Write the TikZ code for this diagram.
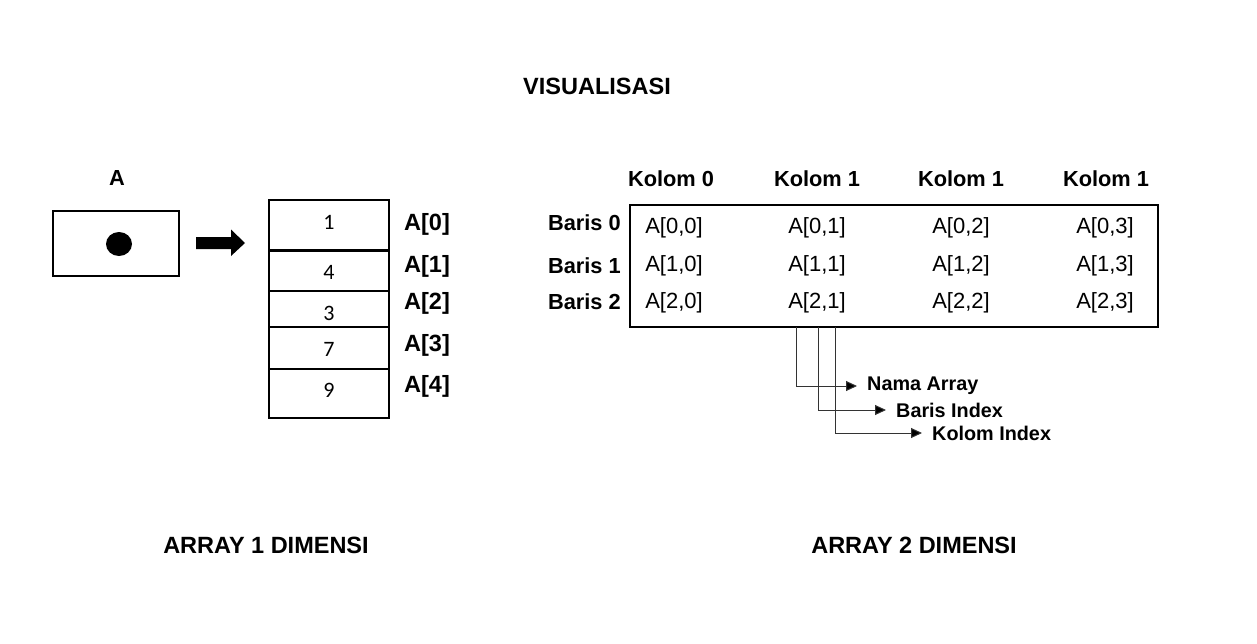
\documentclass[tikz,border=0pt]{standalone}
\usepackage{fontspec}
\setmainfont{Liberation Sans}
\newfontfamily\numfont[Numbers=Lining]{Carlito}
\usetikzlibrary{arrows.meta}
\begin{document}
\begin{tikzpicture}[x=1pt,y=-1pt,
  box/.style={draw=black,line width=2pt},
  bigbold/.style={font=\fontsize{23.5}{27}\selectfont\bfseries,inner sep=0pt},
  hdr/.style={font=\fontsize{21.8}{25}\selectfont\bfseries,inner sep=0pt},
  cell/.style={font=\fontsize{22}{26}\selectfont,inner sep=0pt},
  num/.style={font=\numfont\fontsize{22}{26}\selectfont,inner sep=0pt},
  idx/.style={font=\fontsize{23.5}{27}\selectfont\bfseries,inner sep=0pt},
  lbl/.style={font=\fontsize{19.8}{23}\selectfont\bfseries,inner sep=0pt,anchor=west},
  conn/.style={draw=black!80,line width=1pt,-{Triangle[length=11pt,width=10pt,fill=black]}}]
\useasboundingbox (0,0) rectangle (1257,643);
\fill[white] (0,0) rectangle (1257,643);

% titles
\node[bigbold] (title) at (597,86) {VISUALISASI};
\node[bigbold] (t1) at (266,545) {ARRAY 1 DIMENSI};
\node[bigbold] (t2) at (914,545) {ARRAY 2 DIMENSI};

% left: pointer A
\node[hdr] (alabel) at (117,178) {A};
\node[box,minimum width=126pt,minimum height=65pt,inner sep=0pt] (pbox) at (116,243.5) {};
\fill[black] (119,244) ellipse (13pt and 12pt);
\fill[black] (196,237) -- (231,237) -- (231,229.5) -- (245,243) -- (231,256) -- (231,249) -- (196,249) -- cycle;

% array 1D cells
\draw[box] (269,200) rectangle (389,418);
\draw[line width=3pt] (269,250.5) -- (389,250.5);
\draw[line width=2pt] (269,291) -- (389,291);
\draw[line width=2pt] (269,327) -- (389,327);
\draw[line width=2pt] (269,368.5) -- (389,368.5);
\node[num] (n0) at (329,222) {1};
\node[num] (n1) at (329,272) {4};
\node[num] (n2) at (329,313) {3};
\node[num] (n3) at (329,349) {7};
\node[num] (n4) at (329,390) {9};
\node[idx] (i0) at (427,224) {A[0]};
\node[idx] (i1) at (427,266) {A[1]};
\node[idx] (i2) at (427,303) {A[2]};
\node[idx] (i3) at (427,345) {A[3]};
\node[idx] (i4) at (427,386) {A[4]};

% array 2D
\node[box,minimum width=528pt,minimum height=122pt,inner sep=0pt] (grid) at (894,266) {};
\node[hdr] (k0) at (671,179) {Kolom 0};
\node[hdr] (k1) at (817,179) {Kolom 1};
\node[hdr] (k2) at (961,179) {Kolom 1};
\node[hdr] (k3) at (1106,179) {Kolom 1};
\node[hdr,anchor=east] (b0) at (621,223) {Baris 0};
\node[hdr,anchor=east] (b1) at (621,266) {Baris 1};
\node[hdr,anchor=east] (b2) at (621,302) {Baris 2};
\foreach \r/\y in {0/228,1/266,2/303}{
  \foreach \c/\x in {0/674,1/817,2/961,3/1105}{
    \node[cell] (c\r\c) at (\x,\y) {A[\r,\c]};
  }
}

% explanation connectors
\coordinate (s1) at (796,327);
\coordinate (s2) at (818,327);
\coordinate (s3) at (835,327);
\node[lbl] (nama) at (867,386) {Nama Array};
\node[lbl] (bidx) at (896,410) {Baris Index};
\node[lbl] (kidx) at (932,433) {Kolom Index};
\draw[conn] (s1) |- ([xshift=-10pt]nama.west);
\draw[conn] (s2) |- ([xshift=-10pt]bidx.west);
\draw[conn] (s3) |- ([xshift=-10pt]kidx.west);
\end{tikzpicture}
\end{document}
